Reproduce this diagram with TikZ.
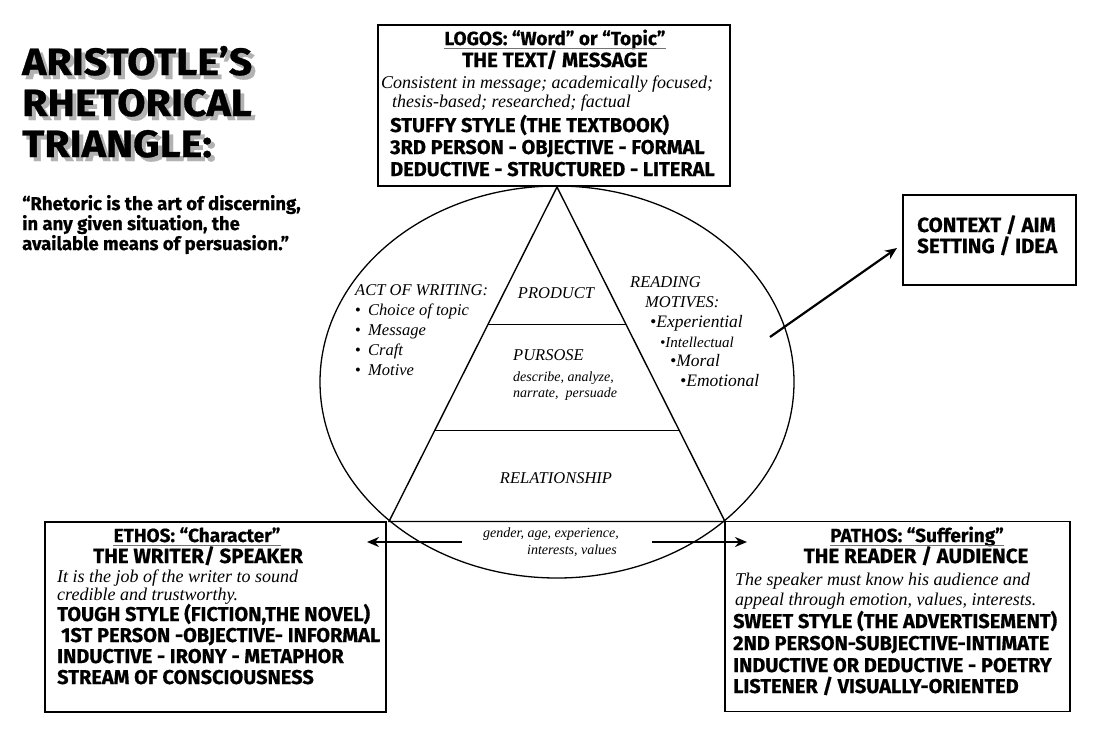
\documentclass[tikz,border=0pt]{standalone}
\usepackage{fontspec}
\setmainfont{Liberation Serif}
\newfontfamily\capsf{Fira Sans}[BoldFeatures={FakeBold=0.6}]
\newfontfamily\titlef{Fira Sans}[FakeStretch=1.08,BoldFeatures={FakeBold=0.8}]
\usetikzlibrary{arrows.meta,calc,shapes.geometric}
\newcommand{\shadowed}[1]{\rlap{\raisebox{-4pt}{\hspace{4pt}\textcolor{black!30}{#1}}}#1}
\begin{document}
\begin{tikzpicture}[x=1pt,y=-1pt,
 box/.style={draw, line width=1.4pt, inner sep=0},
 bc/.style={font=\capsf\bfseries\fontsize{20}{23}\selectfont, inner sep=0, anchor=base west},
 hd/.style={font=\capsf\bfseries\fontsize{19}{22}\selectfont, inner sep=0, anchor=base},
 hdb/.style={font=\capsf\bfseries\fontsize{20.5}{23}\selectfont, inner sep=0, anchor=base},
 it/.style={font=\itshape\fontsize{18}{21}\selectfont, inner sep=0, anchor=base west},
 el/.style={font=\itshape\fontsize{16.5}{19}\selectfont, inner sep=0, anchor=base west},
 els/.style={font=\itshape\fontsize{14}{16}\selectfont, inner sep=0, anchor=base west},
 qt/.style={font=\capsf\bfseries\fontsize{18.5}{21}\selectfont, inner sep=0, anchor=base west},
 ttl/.style={font=\titlef\bfseries\fontsize{38}{41}\selectfont, inner sep=0, anchor=base west},
 arr/.style={line width=2.2pt, -{Stealth[length=12pt,width=10pt]}},
 uline/.style={black!55, line width=0.9pt},
 ]
\useasboundingbox (0,0) rectangle (1100,740);
\fill[white] (0,0) rectangle (1100,740);

% title with shadow
\node[ttl] (t1) at (22,75) {\shadowed{ARISTOTLE’S}};
\node[ttl] (t2) at (22,116) {\shadowed{RHETORICAL}};
\node[ttl] (t3) at (22,157) {\shadowed{TRIANGLE:}};

% quote
\node[qt] (q1) at (22,210) {“Rhetoric is the art of discerning,};
\node[qt] (q2) at (22,230) {in any given situation, the};
\node[qt] (q3) at (22,250) {available means of persuasion.”};

% ellipse and triangle
\node[ellipse, draw, line width=1.3pt, minimum width=474pt, minimum height=392pt, inner sep=0] (ell) at (557,382) {};
\coordinate (apex) at (557,187);
\coordinate (bl) at (389,521.5);
\coordinate (br) at (725,521.5);
\draw[line width=1.4pt, line join=miter] (apex) -- (bl) -- (br) -- cycle;
\draw[line width=1.3pt] ($(apex)!0.41!(bl)$) -- ($(apex)!0.41!(br)$);
\draw[line width=1.3pt] ($(apex)!0.7275!(bl)$) -- ($(apex)!0.7275!(br)$);

% boxes
\node[box, minimum width=352pt, minimum height=161pt] (logos) at (554,105.5) {};
\node[box, minimum width=341pt, minimum height=190pt] (ethos) at (215.5,617) {};
\node[box, minimum width=345pt, minimum height=190pt] (pathos) at (897.5,616.5) {};
\node[box, minimum width=173pt, minimum height=90pt] (ctx) at (989.5,240) {};

% LOGOS text
\node[hd] (lh) at (555,45) {LOGOS: “Word” or “Topic”};
\draw[uline] ([yshift=-3pt]lh.base west) -- ([yshift=-3pt]lh.base east);
\node[hdb] (lt) at (555,67) {THE TEXT/ MESSAGE};
\node[it] (l1) at (381,88) {Consistent in message; academically focused;};
\node[it] (l2) at (392,107) {thesis-based; researched; factual};
\node[bc] (l3) at (390,132) {STUFFY STYLE (THE TEXTBOOK)};
\node[bc] (l4) at (390,154) {3RD PERSON - OBJECTIVE - FORMAL};
\node[bc] (l5) at (390,176) {DEDUCTIVE - STRUCTURED - LITERAL};

% ETHOS text
\node[hd] (eh) at (197,542) {ETHOS: “Character”};
\draw[uline] ([yshift=-3pt]eh.base west) -- ([yshift=-3pt]eh.base east);
\node[hdb] (et) at (198,563) {THE WRITER/ SPEAKER};
\node[it] (e1) at (57,582) {It is the job of the writer to sound};
\node[it] (e2) at (57,600) {credible and trustworthy.};
\node[bc] (e3) at (57,621) {TOUGH STYLE (FICTION,THE NOVEL)};
\node[bc] (e4) at (61,642) {1ST PERSON -OBJECTIVE- INFORMAL};
\node[bc] (e5) at (57,663) {INDUCTIVE - IRONY - METAPHOR};
\node[bc] (e6) at (57,684) {STREAM OF CONSCIOUSNESS};

% PATHOS text
\node[hd] (ph) at (917,542) {PATHOS: “Suffering”};
\draw[uline] ([yshift=-3pt]ph.base west) -- ([yshift=-3pt]ph.base east);
\node[hdb] (pt) at (916,563) {THE READER / AUDIENCE};
\node[it] (p1) at (735,585) {The speaker must know his audience and};
\node[it] (p2) at (735,605) {appeal through emotion, values, interests.};
\node[bc] (p3) at (733,628) {SWEET STYLE (THE ADVERTISEMENT)};
\node[bc] (p4) at (733,650) {2ND PERSON-SUBJECTIVE-INTIMATE};
\node[bc] (p5) at (733,672) {INDUCTIVE OR DEDUCTIVE - POETRY};
\node[bc] (p6) at (733,693) {LISTENER / VISUALLY-ORIENTED};

% context
\node[bc, font=\capsf\bfseries\fontsize{20.5}{23}\selectfont] (c1) at (917,232) {CONTEXT / AIM};
\node[bc, font=\capsf\bfseries\fontsize{20.5}{23}\selectfont] (c2) at (917,253) {SETTING / IDEA};

% act of writing
\node[el] (aw) at (355,295) {ACT OF WRITING:};
\node[el] (w1) at (355,315) {\makebox[13pt][l]{\upshape•}Choice of topic};
\node[el] (w2) at (355,335) {\makebox[13pt][l]{\upshape•}Message};
\node[el] (w3) at (355,355) {\makebox[13pt][l]{\upshape•}Craft};
\node[el] (w4) at (355,375) {\makebox[13pt][l]{\upshape•}Motive};

% triangle labels
\node[el, anchor=base] (prod) at (556,298) {PRODUCT};
\node[el] (purp) at (513,360) {PURSOSE};
\node[els] (pu1) at (513,381) {describe, analyze,};
\node[els] (pu2) at (513,397) {narrate,\ \ persuade};
\node[el, anchor=base] (rel) at (556,483) {RELATIONSHIP};

% reading motives
\node[el] (rm1) at (630,287) {READING};
\node[el] (rm2) at (645,307) {MOTIVES:};
\node[el, font=\itshape\fontsize{17.5}{20}\selectfont] (rm3) at (650,327) {•Experiential};
\node[els, font=\itshape\fontsize{15}{17}\selectfont] (rm4) at (660,347) {•Intellectual};
\node[el, font=\itshape\fontsize{17.5}{20}\selectfont] (rm5) at (670,366) {•Moral};
\node[el, font=\itshape\fontsize{17.5}{20}\selectfont] (rm6) at (680,386) {•Emotional};

% relationship line text
\node[els] (g1) at (483,537) {gender, age, experience,};
\node[els] (g2) at (527,554) {interests, values};

% arrows
\coordinate (la1) at (462,542);
\coordinate (la2) at (367,542);
\coordinate (ra1) at (652,542);
\coordinate (ra2) at (747,542);
\coordinate (ca1) at (770,337);
\coordinate (ca2) at (897,248);
\draw[arr] (la1) -- (la2);
\draw[arr] (ra1) -- (ra2);
\draw[arr] (ca1) -- (ca2);
\end{tikzpicture}
\end{document}
